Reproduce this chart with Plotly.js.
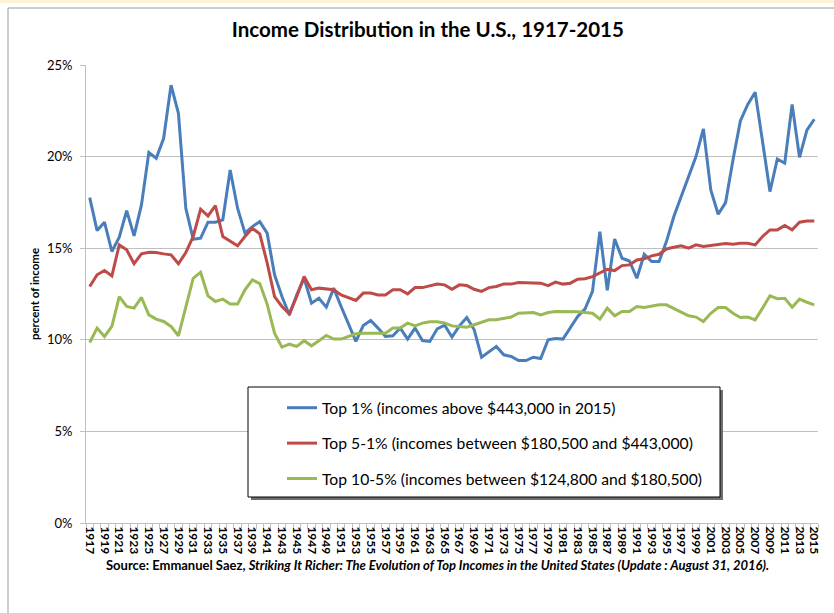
<!DOCTYPE html>
<html>
<head>
<meta charset="utf-8">
<script src="https://cdn.plot.ly/plotly-3.0.1.min.js"></script>
<style>html,body{margin:0;padding:0;background:#fff;}#chart{width:834px;height:613px;}</style>
</head>
<body>
<div id="chart"></div>
<script>
const years = [1917,1918,1919,1920,1921,1922,1923,1924,1925,1926,1927,1928,1929,1930,1931,1932,1933,1934,1935,1936,1937,1938,1939,1940,1941,1942,1943,1944,1945,1946,1947,1948,1949,1950,1951,1952,1953,1954,1955,1956,1957,1958,1959,1960,1961,1962,1963,1964,1965,1966,1967,1968,1969,1970,1971,1972,1973,1974,1975,1976,1977,1978,1979,1980,1981,1982,1983,1984,1985,1986,1987,1988,1989,1990,1991,1992,1993,1994,1995,1996,1997,1998,1999,2000,2001,2002,2003,2004,2005,2006,2007,2008,2009,2010,2011,2012,2013,2014,2015];

const top1 = [17.76,15.96,16.42,14.82,15.6,17.05,15.67,17.36,20.22,19.91,21.0,23.9,22.36,17.18,15.49,15.55,16.42,16.42,16.55,19.27,17.18,15.82,16.18,16.45,15.82,13.55,12.36,11.36,12.45,13.36,12.0,12.27,11.78,12.82,11.82,10.82,9.91,10.78,11.05,10.64,10.18,10.22,10.64,10.04,10.64,9.96,9.91,10.6,10.8,10.15,10.76,11.22,10.55,9.05,9.36,9.64,9.18,9.09,8.87,8.87,9.05,8.98,10.0,10.07,10.04,10.64,11.27,11.69,12.64,15.9,12.7,15.5,14.45,14.3,13.36,14.67,14.27,14.27,15.36,16.73,17.85,19.0,20.0,21.51,18.18,16.85,17.49,19.82,21.95,22.85,23.51,20.82,18.09,19.87,19.64,22.85,19.96,21.45,22.04];

const top5to1 = [12.91,13.55,13.78,13.49,15.18,14.91,14.15,14.69,14.78,14.76,14.69,14.64,14.15,14.76,15.64,17.13,16.76,17.33,15.64,15.36,15.13,15.64,16.09,15.78,14.2,12.36,11.82,11.42,12.36,13.45,12.73,12.82,12.78,12.73,12.45,12.31,12.15,12.55,12.55,12.45,12.45,12.73,12.73,12.51,12.85,12.85,12.95,13.04,13.0,12.76,13.0,12.96,12.76,12.64,12.85,12.91,13.05,13.04,13.13,13.13,13.09,13.09,12.96,13.15,13.04,13.09,13.31,13.33,13.45,13.64,13.85,13.78,14.05,14.09,14.36,14.42,14.58,14.67,14.96,15.05,15.13,15.0,15.18,15.09,15.15,15.22,15.25,15.22,15.27,15.27,15.18,15.64,16.0,16.0,16.24,16.0,16.42,16.49,16.49];

const top10to5 = [9.85,10.64,10.18,10.73,12.36,11.82,11.73,12.31,11.36,11.13,11.0,10.73,10.22,11.82,13.36,13.69,12.4,12.09,12.22,11.96,11.95,12.73,13.27,13.07,11.95,10.36,9.6,9.76,9.64,9.95,9.67,9.95,10.24,10.04,10.04,10.18,10.33,10.36,10.36,10.36,10.36,10.64,10.64,10.91,10.76,10.91,10.98,10.98,10.92,10.76,10.73,10.69,10.82,10.95,11.09,11.09,11.15,11.24,11.45,11.47,11.49,11.36,11.49,11.55,11.55,11.55,11.53,11.49,11.45,11.13,11.73,11.31,11.55,11.55,11.82,11.76,11.85,11.91,11.91,11.73,11.51,11.31,11.24,11.0,11.45,11.76,11.76,11.45,11.22,11.24,11.09,11.73,12.4,12.24,12.27,11.78,12.22,12.05,11.91];

const tickYears = [1917,1919,1921,1923,1925,1927,1929,1931,1933,1935,1937,1939,1941,1943,1945,1947,1949,1951,1953,1955,1957,1959,1961,1963,1965,1967,1969,1971,1973,1975,1977,1979,1981,1983,1985,1987,1989,1991,1993,1995,1997,1999,2001,2003,2005,2007,2009,2011,2013,2015];

const seriesNames = [
  'Top 1% (incomes above $443,000 in 2015)',
  'Top 5-1% (incomes between $180,500 and $443,000)',
  'Top 10-5% (incomes between $124,800 and $180,500)'
];
const colors = ['#4A7EBB', '#BE4B48', '#98B954'];
const values = [top1, top5to1, top10to5];

const traces = values.map((v, i) => ({
  type: 'scatter', mode: 'lines', x: years, y: v, name: seriesNames[i],
  legendgroup: 'g' + i,
  line: {color: colors[i], width: 3}
}));

const L = 86, R = 818, T = 65, B = 523;
const px = p => (p - L) / (R - L);
const py = p => (B - p) / (B - T);

const layout = {
  width: 834, height: 613,
  margin: {l: L, r: 834 - R, t: T, b: 613 - B},
  paper_bgcolor: '#ffffff', plot_bgcolor: '#ffffff',
  font: {family: 'Lato, "Open Sans", sans-serif', color: '#000'},
  title: {text: '<b>Income Distribution in the U.S., 1917-2015</b>', x: 0.513, xanchor: 'center', y: 1 - 30/613, yanchor: 'middle', font: {size: 20.5, family: 'Lato, sans-serif', color: '#000'}},
  showlegend: true,
  legend: {x: px(282), xanchor: 'left', y: py(391), yanchor: 'top', bgcolor: 'rgba(0,0,0,0)', borderwidth: 0, tracegroupgap: 12, font: {size: 15.7, family: 'Lato, sans-serif', color: '#000'}, itemwidth: 30},
  xaxis: {
    range: [1916.5, 2015.5], tickmode: 'array', tickvals: tickYears, ticktext: tickYears.map(String),
    tickangle: 90, ticks: '', showgrid: false, zeroline: false,
    showline: true, linecolor: '#BFBFBF', linewidth: 1,
    tickfont: {size: 12, family: 'Lato, sans-serif', color: '#000', weight: 'bold'},
    minor: {tickmode: 'linear', tick0: 1916.5, dtick: 1, ticks: 'outside', ticklen: 5, tickcolor: '#BFBFBF', showgrid: false},
    fixedrange: true
  },
  yaxis: {
    range: [0, 25], dtick: 5, tick0: 0, ticksuffix: '%',
    ticks: 'outside', ticklen: 5, tickcolor: '#BFBFBF', ticklabelstandoff: 5,
    showgrid: true, gridcolor: '#BFBFBF', gridwidth: 1, zeroline: false,
    showline: true, linecolor: '#BFBFBF', linewidth: 1,
    tickfont: {size: 13, family: 'Lato, sans-serif', color: '#000'},
    title: {text: '<b>percent of income</b>', standoff: 4, font: {size: 11.5, family: 'Lato, sans-serif', color: '#000'}},
    automargin: false, fixedrange: true
  },
  shapes: [
    {type: 'rect', xref: 'paper', yref: 'paper', x0: px(0), x1: px(834), y0: py(3), y1: py(0), fillcolor: '#FDF1D8', line: {width: 0}, layer: 'above'},
    {type: 'line', xref: 'paper', yref: 'paper', x0: px(8), x1: px(8), y0: py(613), y1: py(8), line: {color: '#9A9A9A', width: 1}, layer: 'above'},
    {type: 'line', xref: 'paper', yref: 'paper', x0: px(8), x1: px(834), y0: py(8), y1: py(8), line: {color: '#9A9A9A', width: 1}, layer: 'above'},
    {type: 'rect', xref: 'paper', yref: 'paper', x0: px(251), x1: px(723), y0: py(500), y1: py(390), fillcolor: '#6E6E6E', line: {width: 0}, layer: 'above'},
    {type: 'rect', xref: 'paper', yref: 'paper', x0: px(248), x1: px(720), y0: py(497), y1: py(387), fillcolor: '#ffffff', line: {color: '#000', width: 1}, layer: 'above'}
  ],
  annotations: [
    {xref: 'paper', yref: 'paper', x: px(437), y: py(565), xanchor: 'center', yanchor: 'middle', showarrow: false,
     text: '<b>Source: Emmanuel Saez, <i>Striking It Richer: The Evolution of Top Incomes in the United States (Update : August 31, 2016).</i></b>',
     font: {size: 13, family: 'Lato, sans-serif', color: '#000'}}
  ]
};

Plotly.newPlot('chart', traces, layout, {staticPlot: true, displayModeBar: false});
</script>
</body>
</html>
